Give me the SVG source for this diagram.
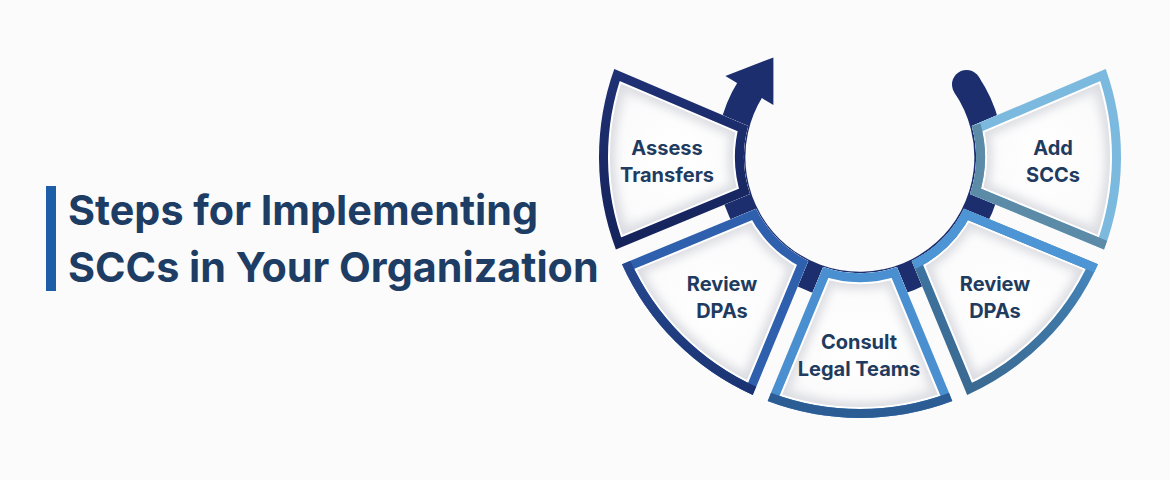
<svg xmlns="http://www.w3.org/2000/svg" xmlns:xlink="http://www.w3.org/1999/xlink" width="1170" height="480" viewBox="0 0 1170 480">
<style>
.lbl{font-family:Inter,"Liberation Sans",Arial,sans-serif;font-weight:700;font-size:20px;fill:#1f3b60;text-anchor:middle}
.ttl{font-family:Inter,"Liberation Sans",Arial,sans-serif;font-weight:700;font-size:41.3px;fill:#1e3d64}
.ring{fill:none;stroke:#1c2e6e}
.wl{fill:none;stroke:#ffffff;stroke-width:22}
.sh{fill:none;stroke:#dcdde2;stroke-width:32}
.bd{fill:none;stroke-width:18}
</style>
<defs>
<radialGradient id="fillG" cx="50%" cy="50%" r="60%">
<stop offset="0" stop-color="#ffffff"/>
<stop offset="0.65" stop-color="#fbfbfc"/>
<stop offset="1" stop-color="#ededf0"/>
</radialGradient>
<filter id="blur" x="-20%" y="-20%" width="140%" height="140%"><feGaussianBlur stdDeviation="5"/></filter>
<linearGradient id="gA" x1="0" y1="0" x2="0" y2="1"><stop offset="0" stop-color="#1f3175"/><stop offset="1" stop-color="#15235a"/></linearGradient>
<linearGradient id="gRLo" x1="0" y1="0" x2="0" y2="1"><stop offset="0" stop-color="#26488f"/><stop offset="1" stop-color="#1a3271"/></linearGradient>
<linearGradient id="gRR" x1="1" y1="0" x2="0.3" y2="1"><stop offset="0" stop-color="#4d95d4"/><stop offset="0.45" stop-color="#3f79a8"/><stop offset="1" stop-color="#3a6990"/></linearGradient>
<path id="pAdd" d="M1105.7,69 A261,261 0 0 1 1104.1,249.4 L970,193.9 A116,116 0 0 0 971.8,126 Z"/>
<path id="pRR" d="M1098,264.2 A261,261 0 0 1 967.2,395 L911.7,260.9 A116,116 0 0 0 963.9,208.7 Z"/>
<path id="pC" d="M952.4,401.1 A261,261 0 0 1 767.6,401.1 L823.1,267 A116,116 0 0 0 896.9,267 Z"/>
<path id="pRL" d="M752.8,395 A261,261 0 0 1 622,264.2 L756.1,208.7 A116,116 0 0 0 808.3,260.9 Z"/>
<path id="pA" d="M615.9,249.4 A261,261 0 0 1 614.3,69 L748.2,126 A116,116 0 0 0 750,193.9 Z"/>
<clipPath id="cAdd"><use xlink:href="#pAdd"/></clipPath>
<clipPath id="cRR"><use xlink:href="#pRR"/></clipPath>
<clipPath id="cC"><use xlink:href="#pC"/></clipPath>
<clipPath id="cRL"><use xlink:href="#pRL"/></clipPath>
<clipPath id="cA"><use xlink:href="#pA"/></clipPath>
</defs>
<rect width="1170" height="480" fill="#fbfbfb"/>

<g id="title">
<rect x="46" y="186" width="10" height="105" fill="#1d5ea8"/>
<text class="ttl" x="68" y="225">Steps for Implementing</text>
<text class="ttl" x="68" y="282">SCCs in Your Organization</text>
</g>

<g id="connectors">
<path class="ring" stroke-width="29" d="M966.5,84.6 A129,129 0 1 1 750.6,88.6"/>
<circle cx="966.5" cy="84.6" r="14.5" fill="#1c2e6e"/>
<polygon points="773.4,105 725.4,76.1 773.4,57.4" fill="#1c2e6e"/>
</g>

<g id="node-assess">
<g clip-path="url(#cA)">
<use xlink:href="#pA" fill="url(#fillG)"/>
<use xlink:href="#pA" class="sh" filter="url(#blur)"/>
<use xlink:href="#pA" class="wl"/>
<use xlink:href="#pA" class="bd" stroke="url(#gA)"/>
</g>
<text class="lbl" x="667" y="155">Assess</text>
<text class="lbl" x="667" y="182">Transfers</text>
</g>

<g id="node-review-left">
<g clip-path="url(#cRL)">
<use xlink:href="#pRL" fill="url(#fillG)"/>
<use xlink:href="#pRL" class="sh" filter="url(#blur)"/>
<use xlink:href="#pRL" class="wl"/>
<use xlink:href="#pRL" class="bd" stroke="#2f60ad"/>
<path class="bd" stroke="url(#gRLo)" d="M622,264.2 A261,261 0 0 0 752.8,395"/>
</g>
<text class="lbl" x="722" y="291">Review</text>
<text class="lbl" x="722" y="318">DPAs</text>
</g>

<g id="node-consult">
<g clip-path="url(#cC)">
<use xlink:href="#pC" fill="url(#fillG)"/>
<use xlink:href="#pC" class="sh" filter="url(#blur)"/>
<use xlink:href="#pC" class="wl"/>
<use xlink:href="#pC" class="bd" stroke="#4a8fcf"/>
<path class="bd" stroke="#2c5c94" d="M952.4,401.1 A261,261 0 0 1 767.6,401.1"/>
</g>
<text class="lbl" x="859" y="349">Consult</text>
<text class="lbl" x="859" y="376">Legal Teams</text>
</g>

<g id="node-review-right">
<g clip-path="url(#cRR)">
<use xlink:href="#pRR" fill="url(#fillG)"/>
<use xlink:href="#pRR" class="sh" filter="url(#blur)"/>
<use xlink:href="#pRR" class="wl"/>
<use xlink:href="#pRR" class="bd" stroke="url(#gRR)"/>
<path class="bd" stroke="#4d95d4" d="M911.7,260.9 A116,116 0 0 0 963.9,208.7 L1098,264.2"/>
</g>
<text class="lbl" x="995" y="291">Review</text>
<text class="lbl" x="995" y="318">DPAs</text>
</g>

<g id="node-add">
<g clip-path="url(#cAdd)">
<use xlink:href="#pAdd" fill="url(#fillG)"/>
<use xlink:href="#pAdd" class="sh" filter="url(#blur)"/>
<use xlink:href="#pAdd" class="wl"/>
<use xlink:href="#pAdd" class="bd" stroke="#7bb9df"/>
<path class="bd" stroke="#5b8ba7" d="M1104.1,249.4 L970,193.9 A116,116 0 0 0 971.8,126"/>
</g>
<text class="lbl" x="1053" y="155">Add</text>
<text class="lbl" x="1053" y="182">SCCs</text>
</g>
</svg>
